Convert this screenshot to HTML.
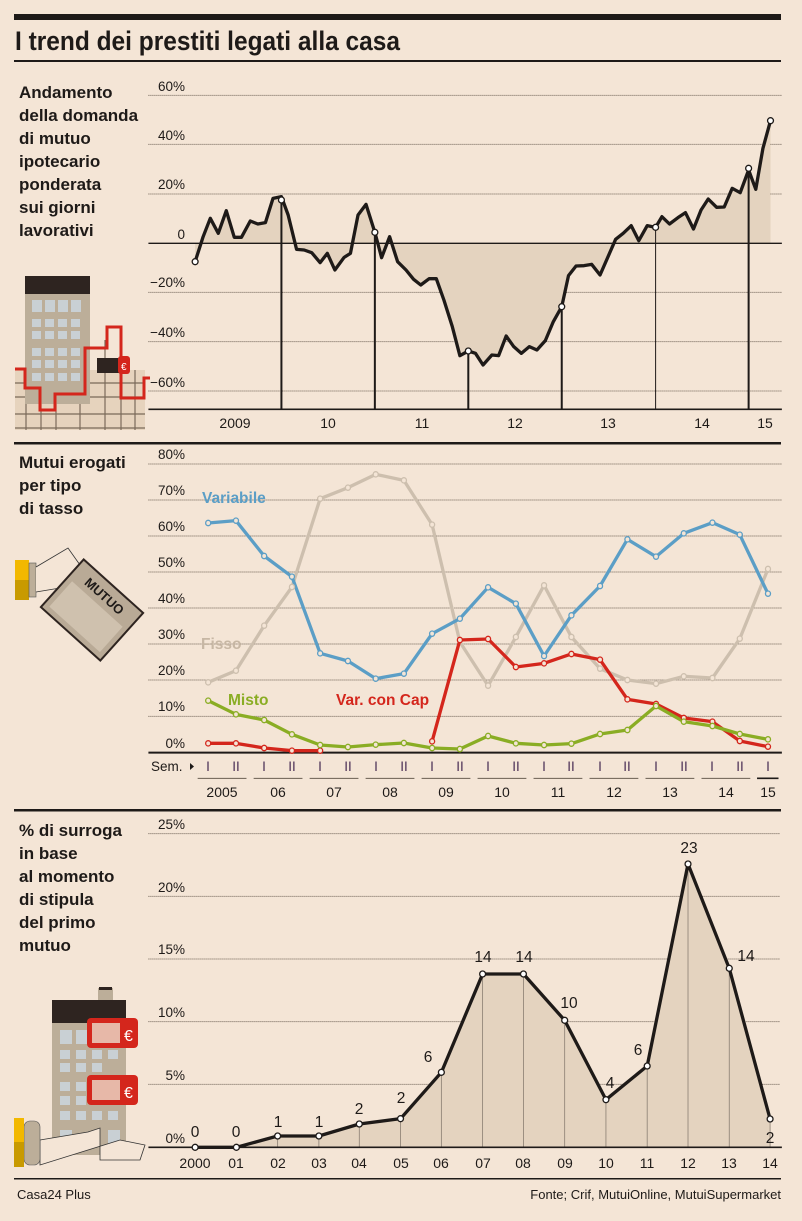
<!DOCTYPE html>
<html><head><meta charset="utf-8"><style>
html,body{margin:0;padding:0;background:#f4e5d6;}
svg{display:block;}
text{font-family:"Liberation Sans Narrow","Liberation Sans",sans-serif;}
.ns *{vector-effect:non-scaling-stroke;}
</style></head><body>
<svg width="802" height="1221" viewBox="0 0 802 1221" xmlns="http://www.w3.org/2000/svg">
<rect width="802" height="1221" fill="#f4e5d6"/>
<rect x="14" y="14" width="767" height="6" fill="#1e1a18"/>
<text x="15" y="50" font-size="27" font-weight="bold" fill="#1e1a18" textLength="385" lengthAdjust="spacingAndGlyphs">I trend dei prestiti legati alla casa</text>
<rect x="14" y="60" width="767" height="2" fill="#1e1a18"/>
<rect x="14" y="442" width="767" height="2.5" fill="#1e1a18"/>
<rect x="14" y="809" width="767" height="2.5" fill="#1e1a18"/>
<rect x="14" y="1178" width="767" height="1.5" fill="#1e1a18"/>
<text x="17" y="1199" font-size="13" fill="#1e1a18">Casa24 Plus</text>
<text x="781" y="1199" font-size="13" fill="#1e1a18" text-anchor="end">Fonte; Crif, MutuiOnline, MutuiSupermarket</text>

<g font-size="17" font-weight="bold" fill="#1e1a18">
<text x="19" y="98">Andamento</text><text x="19" y="121">della domanda</text><text x="19" y="144">di mutuo</text><text x="19" y="167">ipotecario</text><text x="19" y="190">ponderata</text><text x="19" y="213">sui giorni</text><text x="19" y="236">lavorativi</text>
<text x="19" y="468">Mutui erogati</text><text x="19" y="491">per tipo</text><text x="19" y="514">di tasso</text>
<text x="19" y="836">% di surroga</text><text x="19" y="859">in base</text><text x="19" y="882">al momento</text><text x="19" y="905">di stipula</text><text x="19" y="928">del primo</text><text x="19" y="951">mutuo</text>
</g>

<!-- icon 1 -->
<g>
<rect x="15" y="370" width="130" height="60" fill="#e6d3bd"/>
<g stroke="#7a6a5a" stroke-width="1.2">
<line x1="15" y1="383" x2="145" y2="383"/><line x1="15" y1="397" x2="145" y2="397"/><line x1="15" y1="414" x2="145" y2="414"/><line x1="15" y1="428" x2="145" y2="428"/>
<line x1="26" y1="370" x2="26" y2="430"/><line x1="41" y1="370" x2="41" y2="430"/><line x1="56" y1="370" x2="56" y2="430"/><line x1="80" y1="370" x2="80" y2="430"/><line x1="105" y1="340" x2="105" y2="430"/><line x1="121" y1="340" x2="121" y2="430"/><line x1="135" y1="370" x2="135" y2="430"/>
</g>
<rect x="25" y="276" width="65" height="18" fill="#2e2420"/>
<rect x="25" y="294" width="65" height="110" fill="#bcae99"/>
<g fill="#c9d0d4">
<rect x="32" y="300" width="10" height="12"/><rect x="45" y="300" width="10" height="12"/><rect x="58" y="300" width="10" height="12"/><rect x="71" y="300" width="10" height="12"/>
<rect x="32" y="319" width="9" height="8"/><rect x="45" y="319" width="9" height="8"/><rect x="58" y="319" width="9" height="8"/><rect x="71" y="319" width="9" height="8"/>
<rect x="32" y="331" width="9" height="8"/><rect x="45" y="331" width="9" height="8"/><rect x="58" y="331" width="9" height="8"/><rect x="71" y="331" width="9" height="8"/>
<rect x="32" y="348" width="9" height="8"/><rect x="45" y="348" width="9" height="8"/><rect x="58" y="348" width="9" height="8"/><rect x="71" y="348" width="9" height="8"/>
<rect x="32" y="360" width="9" height="8"/><rect x="45" y="360" width="9" height="8"/><rect x="58" y="360" width="9" height="8"/><rect x="71" y="360" width="9" height="8"/>
<rect x="32" y="373" width="9" height="8"/><rect x="45" y="373" width="9" height="8"/><rect x="58" y="373" width="9" height="8"/><rect x="71" y="373" width="9" height="8"/>
</g>
<polyline points="15,369 25,369 25,388 40,388 40,410 55,410 55,394 85,394 85,348 107,348 107,327 121,327 121,398 144,398 144,378 150,378" fill="none" stroke="#d4261c" stroke-width="3"/>
<rect x="97" y="358" width="30" height="15" fill="#2e2420"/>
<rect x="118" y="356" width="12" height="18" rx="3" fill="#d4261c"/>
<text x="121" y="370" font-size="10" fill="#fff">€</text>
</g>

<!-- icon 2 -->
<g>
<rect x="15" y="560" width="14" height="40" fill="#c89a00"/><rect x="15" y="560" width="14" height="20" fill="#f2b800"/>
<rect x="29" y="563" width="7" height="34" fill="#bcae99" stroke="#555" stroke-width="0.6"/>
<path d="M36,567 L68,548 L80,565 L90,585 L60,588 L36,592" fill="#f4e5d6" stroke="#333" stroke-width="0.8"/>
<g transform="translate(92,610) rotate(42)">
<rect x="-40" y="-32" width="80" height="64" fill="#b9aa96" stroke="#2e2420" stroke-width="2"/>
<rect x="-34" y="-8" width="68" height="34" fill="#cfc1ae"/>
<text x="0" y="-14" font-size="13" font-weight="bold" text-anchor="middle" fill="#1e1a18">MUTUO</text>
</g>
</g>

<!-- icon 3 -->
<g>
<rect x="98" y="988" width="15" height="13" fill="#bcae99"/><rect x="99" y="987" width="13" height="3" fill="#2e2420"/>
<rect x="52" y="1000" width="74" height="23" fill="#2e2420"/>
<rect x="52" y="1023" width="74" height="132" fill="#bcae99"/>
<g fill="#c9d0d4">
<rect x="60" y="1030" width="12" height="14"/><rect x="76" y="1030" width="12" height="14"/>
<rect x="60" y="1050" width="10" height="9"/><rect x="76" y="1050" width="10" height="9"/><rect x="92" y="1050" width="10" height="9"/><rect x="108" y="1050" width="10" height="9"/>
<rect x="60" y="1063" width="10" height="9"/><rect x="76" y="1063" width="10" height="9"/><rect x="92" y="1063" width="10" height="9"/>
<rect x="60" y="1082" width="10" height="9"/><rect x="76" y="1082" width="10" height="9"/>
<rect x="60" y="1096" width="10" height="9"/><rect x="76" y="1096" width="10" height="9"/><rect x="92" y="1096" width="10" height="9"/>
<rect x="60" y="1111" width="10" height="9"/><rect x="76" y="1111" width="10" height="9"/><rect x="92" y="1111" width="10" height="9"/><rect x="108" y="1111" width="10" height="9"/>
<rect x="60" y="1130" width="12" height="14"/><rect x="108" y="1130" width="12" height="14"/>
</g>
<rect x="87" y="1018" width="51" height="30" rx="4" fill="#d4261c"/><rect x="92" y="1023" width="28" height="20" fill="#e7b8a8"/>
<text x="124" y="1041" font-size="16" fill="#fff">€</text>
<rect x="87" y="1075" width="51" height="30" rx="4" fill="#d4261c"/><rect x="92" y="1080" width="28" height="20" fill="#e7b8a8"/>
<text x="124" y="1098" font-size="16" fill="#fff">€</text>
<path d="M40,1140 L88,1132 L100,1128 L100,1160 L140,1160 L145,1145 L120,1140 L40,1165 Z" fill="#f4e5d6" stroke="#333" stroke-width="0.8"/>
<rect x="24" y="1121" width="16" height="44" rx="6" fill="#bcae99" stroke="#555" stroke-width="0.6"/>
<rect x="14" y="1118" width="10" height="49" fill="#c89a00"/><rect x="14" y="1118" width="10" height="24" fill="#f2b800"/>
</g>

<!-- CHART 1 -->
<g class="ns" transform="translate(140,70) scale(0.4209,0.33333)">
<g stroke="#6a5e52" stroke-width="1" stroke-dasharray="1,1">
<line x1="20" y1="76" x2="1525" y2="76"/><line x1="20" y1="223" x2="1525" y2="223"/><line x1="20" y1="372" x2="1525" y2="372"/><line x1="20" y1="667" x2="1525" y2="667"/><line x1="20" y1="815" x2="1525" y2="815"/><line x1="20" y1="963" x2="1525" y2="963"/>
</g>
<polygon fill="#e4d3bf" points="131,520 131,575 150,500 167,445 186,490 205,422 224,502 241,502 262,453 280,462 298,458 316,385 336,380 352,435 372,538 390,540 408,548 428,578 445,550 463,600 485,562 500,550 518,435 537,403 558,487 574,563 593,500 612,575 632,600 650,628 667,645 687,626 704,626 722,690 742,770 760,857 780,843 797,850 815,885 836,855 852,857 870,798 888,830 906,850 925,830 943,840 963,812 982,755 1002,710 1018,617 1036,588 1055,587 1073,583 1093,615 1112,560 1130,508 1148,490 1167,467 1185,512 1205,467 1225,472 1240,440 1258,462 1278,443 1296,428 1315,477 1333,420 1350,387 1370,412 1388,411 1407,355 1426,368 1446,300 1463,358 1480,235 1498,152 1498,520"/>
<line x1="20" y1="520" x2="1525" y2="520" stroke="#1e1a18" stroke-width="1.3"/>
<line x1="20" y1="1018" x2="1525" y2="1018" stroke="#1e1a18" stroke-width="1.7"/>
<g stroke="#1e1a18" stroke-width="2">
<line x1="336" y1="385" x2="336" y2="1018"/><line x1="558" y1="487" x2="558" y2="1018"/><line x1="780" y1="843" x2="780" y2="1018"/><line x1="1002" y1="710" x2="1002" y2="1018"/><line x1="1446" y1="295" x2="1446" y2="1018"/>
</g>
<line x1="1225" y1="472" x2="1225" y2="1018" stroke="#1e1a18" stroke-width="1"/>
<polyline fill="none" stroke="#1e1a18" stroke-width="3.3" stroke-linejoin="round" points="131,575 150,500 167,445 186,490 205,422 224,502 241,502 262,453 280,462 298,458 316,385 336,380 352,435 372,538 390,540 408,548 428,578 445,550 463,600 485,562 500,550 518,435 537,403 558,487 574,563 593,500 612,575 632,600 650,628 667,645 687,626 704,626 722,690 742,770 760,857 780,843 797,850 815,885 836,855 852,857 870,798 888,830 906,850 925,830 943,840 963,812 982,755 1002,710 1018,617 1036,588 1055,587 1073,583 1093,615 1112,560 1130,508 1148,490 1167,467 1185,512 1205,467 1225,472 1240,440 1258,462 1278,443 1296,428 1315,477 1333,420 1350,387 1370,412 1388,411 1407,355 1426,368 1446,300 1463,358 1480,235 1498,152"/>
<g fill="#fff" stroke="#1e1a18" stroke-width="1.3">
<ellipse cx="131" cy="575" rx="7" ry="9"/><ellipse cx="336" cy="390" rx="7" ry="9"/><ellipse cx="558" cy="487" rx="7" ry="9"/><ellipse cx="780" cy="843" rx="7" ry="9"/><ellipse cx="1002" cy="710" rx="7" ry="9"/><ellipse cx="1225" cy="472" rx="7" ry="9"/><ellipse cx="1446" cy="295" rx="7" ry="9"/><ellipse cx="1498" cy="152" rx="7" ry="9"/>
</g>
</g>
<g font-size="13.5" fill="#1e1a18" text-anchor="end">
<text x="185" y="91">60%</text><text x="185" y="140">40%</text><text x="185" y="189">20%</text><text x="185" y="239">0</text><text x="185" y="287">−20%</text><text x="185" y="337">−40%</text><text x="185" y="387">−60%</text>
</g>
<g font-size="14" fill="#1e1a18" text-anchor="middle">
<text x="235" y="428">2009</text><text x="328" y="428">10</text><text x="422" y="428">11</text><text x="515" y="428">12</text><text x="608" y="428">13</text><text x="702" y="428">14</text><text x="765" y="428">15</text>
</g>

<!-- CHART 2 -->
<g class="ns" transform="translate(140,440) scale(0.4209,0.33333)">
<g stroke="#6a5e52" stroke-width="1" stroke-dasharray="1,1">
<line x1="20" y1="72" x2="1525" y2="72"/><line x1="20" y1="180" x2="1525" y2="180"/><line x1="20" y1="288" x2="1525" y2="288"/><line x1="20" y1="396" x2="1525" y2="396"/><line x1="20" y1="504" x2="1525" y2="504"/><line x1="20" y1="612" x2="1525" y2="612"/><line x1="20" y1="720" x2="1525" y2="720"/><line x1="20" y1="829" x2="1525" y2="829"/>
</g>
<line x1="20" y1="938" x2="1525" y2="938" stroke="#1e1a18" stroke-width="2"/>
<g fill="none" stroke-width="3.3" stroke-linejoin="round">
<polyline stroke="#cdbfae" points="162,727 228,692 295,557 361,441 428,176 494,143 560,103 627,121 694,254 760,606 827,737 893,591 960,436 1025,591 1093,686 1158,720 1226,731 1292,709 1360,714 1425,596 1492,387"/>
<polyline stroke="#5b9ec6" points="162,249 228,242 295,348 361,410 428,640 494,663 560,716 627,701 694,581 760,536 827,442 893,491 960,648 1025,526 1093,438 1158,298 1226,350 1292,280 1360,248 1425,284 1492,461"/>
<polyline stroke="#d4261c" points="162,910 228,910 295,924 361,932 428,932"/>
<polyline stroke="#d4261c" points="694,904 760,600 827,597 893,681 960,670 1025,642 1093,659 1158,778 1226,792 1292,834 1360,845 1425,903 1492,920"/>
<polyline stroke="#8aad24" points="162,782 228,823 295,840 361,883 428,915 494,921 560,914 627,909 694,924 760,927 827,888 893,910 960,915 1025,911 1093,882 1158,870 1226,798 1292,845 1360,858 1425,882 1492,898"/>
</g>
<g fill="#f4e5d6" stroke-width="1.3">
<g stroke="#cdbfae"><ellipse cx="162" cy="727" rx="6" ry="8"/><ellipse cx="228" cy="692" rx="6" ry="8"/><ellipse cx="295" cy="557" rx="6" ry="8"/><ellipse cx="361" cy="441" rx="6" ry="8"/><ellipse cx="428" cy="176" rx="6" ry="8"/><ellipse cx="494" cy="143" rx="6" ry="8"/><ellipse cx="560" cy="103" rx="6" ry="8"/><ellipse cx="627" cy="121" rx="6" ry="8"/><ellipse cx="694" cy="254" rx="6" ry="8"/><ellipse cx="827" cy="737" rx="6" ry="8"/><ellipse cx="893" cy="591" rx="6" ry="8"/><ellipse cx="960" cy="436" rx="6" ry="8"/><ellipse cx="1025" cy="591" rx="6" ry="8"/><ellipse cx="1093" cy="686" rx="6" ry="8"/><ellipse cx="1158" cy="720" rx="6" ry="8"/><ellipse cx="1226" cy="731" rx="6" ry="8"/><ellipse cx="1292" cy="709" rx="6" ry="8"/><ellipse cx="1360" cy="714" rx="6" ry="8"/><ellipse cx="1425" cy="596" rx="6" ry="8"/><ellipse cx="1492" cy="387" rx="6" ry="8"/></g>
<g stroke="#5b9ec6"><ellipse cx="162" cy="249" rx="6" ry="8"/><ellipse cx="228" cy="242" rx="6" ry="8"/><ellipse cx="295" cy="348" rx="6" ry="8"/><ellipse cx="361" cy="410" rx="6" ry="8"/><ellipse cx="428" cy="640" rx="6" ry="8"/><ellipse cx="494" cy="663" rx="6" ry="8"/><ellipse cx="560" cy="716" rx="6" ry="8"/><ellipse cx="627" cy="701" rx="6" ry="8"/><ellipse cx="694" cy="581" rx="6" ry="8"/><ellipse cx="760" cy="536" rx="6" ry="8"/><ellipse cx="827" cy="442" rx="6" ry="8"/><ellipse cx="893" cy="491" rx="6" ry="8"/><ellipse cx="960" cy="648" rx="6" ry="8"/><ellipse cx="1025" cy="526" rx="6" ry="8"/><ellipse cx="1093" cy="438" rx="6" ry="8"/><ellipse cx="1158" cy="298" rx="6" ry="8"/><ellipse cx="1226" cy="350" rx="6" ry="8"/><ellipse cx="1292" cy="280" rx="6" ry="8"/><ellipse cx="1360" cy="248" rx="6" ry="8"/><ellipse cx="1425" cy="284" rx="6" ry="8"/><ellipse cx="1492" cy="461" rx="6" ry="8"/></g>
<g stroke="#d4261c"><ellipse cx="162" cy="910" rx="6" ry="8"/><ellipse cx="228" cy="910" rx="6" ry="8"/><ellipse cx="295" cy="924" rx="6" ry="8"/><ellipse cx="361" cy="932" rx="6" ry="8"/><ellipse cx="428" cy="932" rx="6" ry="8"/><ellipse cx="694" cy="904" rx="6" ry="8"/><ellipse cx="760" cy="600" rx="6" ry="8"/><ellipse cx="827" cy="597" rx="6" ry="8"/><ellipse cx="893" cy="681" rx="6" ry="8"/><ellipse cx="960" cy="670" rx="6" ry="8"/><ellipse cx="1025" cy="642" rx="6" ry="8"/><ellipse cx="1093" cy="659" rx="6" ry="8"/><ellipse cx="1158" cy="778" rx="6" ry="8"/><ellipse cx="1226" cy="792" rx="6" ry="8"/><ellipse cx="1292" cy="834" rx="6" ry="8"/><ellipse cx="1360" cy="845" rx="6" ry="8"/><ellipse cx="1425" cy="903" rx="6" ry="8"/><ellipse cx="1492" cy="920" rx="6" ry="8"/></g>
<g stroke="#8aad24"><ellipse cx="162" cy="782" rx="6" ry="8"/><ellipse cx="228" cy="823" rx="6" ry="8"/><ellipse cx="295" cy="840" rx="6" ry="8"/><ellipse cx="361" cy="883" rx="6" ry="8"/><ellipse cx="428" cy="915" rx="6" ry="8"/><ellipse cx="494" cy="921" rx="6" ry="8"/><ellipse cx="560" cy="914" rx="6" ry="8"/><ellipse cx="627" cy="909" rx="6" ry="8"/><ellipse cx="694" cy="924" rx="6" ry="8"/><ellipse cx="760" cy="927" rx="6" ry="8"/><ellipse cx="827" cy="888" rx="6" ry="8"/><ellipse cx="893" cy="910" rx="6" ry="8"/><ellipse cx="960" cy="915" rx="6" ry="8"/><ellipse cx="1025" cy="911" rx="6" ry="8"/><ellipse cx="1093" cy="882" rx="6" ry="8"/><ellipse cx="1158" cy="870" rx="6" ry="8"/><ellipse cx="1226" cy="798" rx="6" ry="8"/><ellipse cx="1292" cy="845" rx="6" ry="8"/><ellipse cx="1360" cy="858" rx="6" ry="8"/><ellipse cx="1425" cy="882" rx="6" ry="8"/><ellipse cx="1492" cy="898" rx="6" ry="8"/></g>
</g>
<g stroke="#6a5e52" stroke-width="1">
<line x1="137" y1="1015" x2="253" y2="1015"/><line x1="270" y1="1015" x2="386" y2="1015"/><line x1="403" y1="1015" x2="519" y2="1015"/><line x1="536" y1="1015" x2="652" y2="1015"/><line x1="669" y1="1015" x2="785" y2="1015"/><line x1="802" y1="1015" x2="918" y2="1015"/><line x1="935" y1="1015" x2="1051" y2="1015"/><line x1="1068" y1="1015" x2="1184" y2="1015"/><line x1="1201" y1="1015" x2="1317" y2="1015"/><line x1="1334" y1="1015" x2="1450" y2="1015"/>
</g>
<line x1="1466" y1="1015" x2="1517" y2="1015" stroke="#1e1a18" stroke-width="1.7"/>
</g>
<g font-size="13.5" fill="#1e1a18" text-anchor="end">
<text x="185" y="459">80%</text><text x="185" y="495">70%</text><text x="185" y="531">60%</text><text x="185" y="567">50%</text><text x="185" y="603">40%</text><text x="185" y="639">30%</text><text x="185" y="675">20%</text><text x="185" y="711">10%</text><text x="185" y="748">0%</text>
</g>
<g font-size="15.5" font-weight="bold">
<text x="202" y="503" fill="#5b9ec6">Variabile</text>
<text x="201" y="649" fill="#c7b7a4">Fisso</text>
<text x="228" y="705" fill="#8aad24">Misto</text>
<text x="336" y="705" fill="#d4261c">Var. con Cap</text>
</g>
<text x="151" y="771" font-size="13.5" fill="#1e1a18">Sem.</text>
<polygon points="190,763 194,766.5 190,770" fill="#1e1a18"/>
<g font-size="13.5" fill="#4a2f55" text-anchor="middle">
<text x="208" y="771">I</text><text x="236" y="771">II</text><text x="264" y="771">I</text><text x="292" y="771">II</text><text x="320" y="771">I</text><text x="348" y="771">II</text><text x="376" y="771">I</text><text x="404" y="771">II</text><text x="432" y="771">I</text><text x="460" y="771">II</text><text x="488" y="771">I</text><text x="516" y="771">II</text><text x="544" y="771">I</text><text x="571" y="771">II</text><text x="600" y="771">I</text><text x="627" y="771">II</text><text x="656" y="771">I</text><text x="684" y="771">II</text><text x="712" y="771">I</text><text x="740" y="771">II</text><text x="768" y="771">I</text>
</g>
<g font-size="14" fill="#1e1a18" text-anchor="middle">
<text x="222" y="797">2005</text><text x="278" y="797">06</text><text x="334" y="797">07</text><text x="390" y="797">08</text><text x="446" y="797">09</text><text x="502" y="797">10</text><text x="558" y="797">11</text><text x="614" y="797">12</text><text x="670" y="797">13</text><text x="726" y="797">14</text><text x="768" y="797">15</text>
</g>

<!-- CHART 3 -->
<g class="ns" transform="translate(140,810) scale(0.4209,0.33333)">
<g stroke="#6a5e52" stroke-width="1" stroke-dasharray="1,1">
<line x1="20" y1="71" x2="1520" y2="71"/><line x1="20" y1="259" x2="1520" y2="259"/><line x1="20" y1="447" x2="1520" y2="447"/><line x1="20" y1="635" x2="1520" y2="635"/><line x1="20" y1="823" x2="1520" y2="823"/>
</g>
<polygon fill="#e4d3bf" points="131,1012 229,1012 327,978 425,978 521,942 619,926 716,787 814,492 911,492 1009,631 1107,869 1205,768 1302,162 1400,475 1497,927 1497,1012"/>
<g stroke="#8a7e72" stroke-width="0.8">
<line x1="327" y1="978" x2="327" y2="1012"/><line x1="425" y1="978" x2="425" y2="1012"/><line x1="521" y1="942" x2="521" y2="1012"/><line x1="619" y1="926" x2="619" y2="1012"/><line x1="716" y1="787" x2="716" y2="1012"/><line x1="814" y1="492" x2="814" y2="1012"/><line x1="911" y1="492" x2="911" y2="1012"/><line x1="1009" y1="631" x2="1009" y2="1012"/><line x1="1107" y1="869" x2="1107" y2="1012"/><line x1="1205" y1="768" x2="1205" y2="1012"/><line x1="1302" y1="162" x2="1302" y2="1012"/><line x1="1400" y1="475" x2="1400" y2="1012"/><line x1="1497" y1="927" x2="1497" y2="1012"/>
</g>
<line x1="20" y1="1012" x2="1525" y2="1012" stroke="#1e1a18" stroke-width="1.7"/>
<polyline fill="none" stroke="#1e1a18" stroke-width="3.3" stroke-linejoin="round" points="131,1012 229,1012 327,978 425,978 521,942 619,926 716,787 814,492 911,492 1009,631 1107,869 1205,768 1302,162 1400,475 1497,927"/>
<g fill="#fff" stroke="#1e1a18" stroke-width="1.3">
<ellipse cx="131" cy="1012" rx="7" ry="9"/><ellipse cx="229" cy="1012" rx="7" ry="9"/><ellipse cx="327" cy="978" rx="7" ry="9"/><ellipse cx="425" cy="978" rx="7" ry="9"/><ellipse cx="521" cy="942" rx="7" ry="9"/><ellipse cx="619" cy="926" rx="7" ry="9"/><ellipse cx="716" cy="787" rx="7" ry="9"/><ellipse cx="814" cy="492" rx="7" ry="9"/><ellipse cx="911" cy="492" rx="7" ry="9"/><ellipse cx="1009" cy="631" rx="7" ry="9"/><ellipse cx="1107" cy="869" rx="7" ry="9"/><ellipse cx="1205" cy="768" rx="7" ry="9"/><ellipse cx="1302" cy="162" rx="7" ry="9"/><ellipse cx="1400" cy="475" rx="7" ry="9"/><ellipse cx="1497" cy="927" rx="7" ry="9"/>
</g>
</g>
<g font-size="13.5" fill="#1e1a18" text-anchor="end">
<text x="185" y="829">25%</text><text x="185" y="892">20%</text><text x="185" y="954">15%</text><text x="185" y="1017">10%</text><text x="185" y="1080">5%</text><text x="185" y="1143">0%</text>
</g>
<g font-size="15.5" fill="#1e1a18" text-anchor="middle">
<text x="195" y="1137">0</text><text x="236" y="1137">0</text><text x="278" y="1127">1</text><text x="319" y="1127">1</text><text x="359" y="1114">2</text><text x="401" y="1103">2</text><text x="428" y="1062">6</text><text x="483" y="962">14</text><text x="524" y="962">14</text><text x="569" y="1008">10</text><text x="610" y="1088">4</text><text x="638" y="1055">6</text><text x="689" y="853">23</text><text x="746" y="961">14</text><text x="770" y="1143">2</text>
</g>
<g font-size="14" fill="#1e1a18" text-anchor="middle">
<text x="195" y="1168">2000</text><text x="236" y="1168">01</text><text x="278" y="1168">02</text><text x="319" y="1168">03</text><text x="359" y="1168">04</text><text x="401" y="1168">05</text><text x="441" y="1168">06</text><text x="483" y="1168">07</text><text x="523" y="1168">08</text><text x="565" y="1168">09</text><text x="606" y="1168">10</text><text x="647" y="1168">11</text><text x="688" y="1168">12</text><text x="729" y="1168">13</text><text x="770" y="1168">14</text>
</g>
</svg>
</body></html>
